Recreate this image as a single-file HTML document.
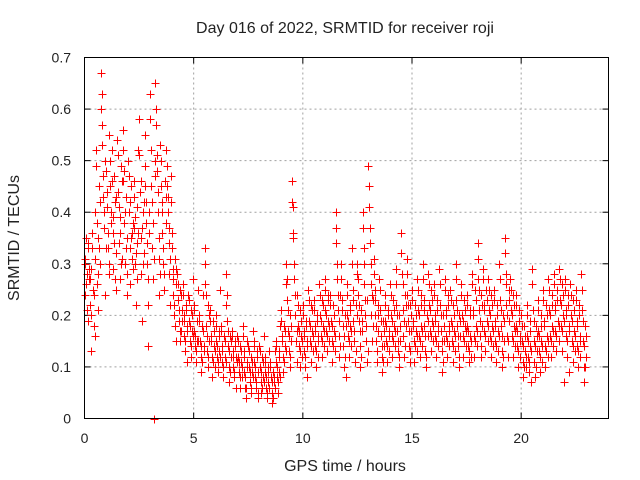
<!DOCTYPE html>
<html><head><meta charset="utf-8"><style>
html,body{margin:0;padding:0;background:#fff}
svg{display:block}
text{font-family:"Liberation Sans",sans-serif;font-size:14px;fill:#222}
.big{font-size:16px}
</style></head><body>
<svg id="chart" width="640" height="480" viewBox="0 0 640 480">
<rect x="0" y="0" width="640" height="480" fill="#fff"/>
<text class="big" x="345" y="33" text-anchor="middle">Day 016 of 2022, SRMTID for receiver roji</text>
<text class="big" x="345" y="471" text-anchor="middle">GPS time / hours</text>
<text class="big" x="0" y="0" text-anchor="middle" transform="translate(19,238) rotate(-90)">SRMTID / TECUs</text>
<g id="grid"></g>
<g id="ticks"></g>
<g id="marks"></g>
<rect x="84.5" y="57.5" width="524" height="361" fill="none" stroke="#000" stroke-width="1"/>
</svg>
<script>
const xTicks=[0,5,10,15,20];
const yTicks=[0,0.1,0.2,0.3,0.4,0.5,0.6,0.7];
const yTickLabels=["0","0.1","0.2","0.3","0.4","0.5","0.6","0.7"];
const sampleStep=0.035;
const binHours=[0,0.25,0.5,0.75,1,1.25,1.5,1.75,2,2.25,2.5,2.75,3,3.25,3.5,3.75,4,4.25,4.5,4.75,5,5.25,5.5,5.75,6,6.25,6.5,6.75,7,7.25,7.5,7.75,8,8.25,8.5,8.75,9,9.25,9.5,9.75,10,10.25,10.5,10.75,11,11.25,11.5,11.75,12,12.25,12.5,12.75,13,13.25,13.5,13.75,14,14.25,14.5,14.75,15,15.25,15.5,15.75,16,16.25,16.5,16.75,17,17.25,17.5,17.75,18,18.25,18.5,18.75,19,19.25,19.5,19.75,20,20.25,20.5,20.75,21,21.25,21.5,21.75,22,22.25,22.5,22.75];
const tecu=[
[0.24,0.31,0.35,0.28,0.19,0.33,0.27],[0.22,0.13,0.29,0.36,0.25,0.18,0.31],[0.40,0.52,0.26,0.35,0.21,0.45,0.30],[0.67,0.63,0.57,0.43,0.37,0.24,0.50],
[0.48,0.41,0.33,0.55,0.28,0.45,0.38],[0.52,0.36,0.29,0.47,0.42,0.25,0.32],[0.54,0.44,0.34,0.27,0.39,0.49,0.31],[0.56,0.46,0.38,0.30,0.43,0.24,0.35],
[0.50,0.40,0.33,0.26,0.45,0.36,0.29],[0.46,0.37,0.30,0.22,0.41,0.34,0.52],[0.58,0.44,0.35,0.28,0.19,0.40,0.32],[0.55,0.45,0.38,0.30,0.22,0.14,0.36],
[0.63,0.52,0.42,0.33,0.27,0.00,0.47],[0.65,0.57,0.48,0.40,0.31,0.24,0.53],[0.50,0.42,0.36,0.30,0.25,0.46,0.38],[0.52,0.45,0.40,0.34,0.28,0.22,0.47],
[0.36,0.29,0.24,0.20,0.31,0.26,0.15],[0.28,0.23,0.19,0.15,0.25,0.17,0.21],[0.26,0.20,0.16,0.13,0.22,0.18,0.11],[0.24,0.19,0.15,0.12,0.21,0.17,0.27],
[0.22,0.17,0.14,0.11,0.19,0.15,0.25],[0.20,0.15,0.12,0.09,0.18,0.24,0.14],[0.33,0.26,0.18,0.13,0.10,0.22,0.15],[0.21,0.16,0.12,0.08,0.19,0.14,0.10],
[0.20,0.15,0.12,0.09,0.17,0.13,0.25],[0.18,0.14,0.11,0.08,0.16,0.12,0.22],[0.28,0.19,0.14,0.10,0.07,0.16,0.12],[0.17,0.13,0.10,0.08,0.15,0.12,0.06],
[0.16,0.12,0.09,0.06,0.14,0.11,0.08],[0.18,0.13,0.09,0.06,0.04,0.11,0.15],[0.14,0.10,0.07,0.05,0.12,0.09,0.17],[0.15,0.11,0.08,0.06,0.13,0.09,0.04],
[0.14,0.10,0.07,0.05,0.12,0.08,0.16],[0.12,0.09,0.06,0.04,0.10,0.07,0.13],[0.11,0.08,0.05,0.03,0.09,0.07,0.13],[0.15,0.11,0.08,0.05,0.13,0.09,0.18],
[0.21,0.16,0.12,0.09,0.18,0.14,0.26],[0.30,0.23,0.17,0.13,0.10,0.20,0.15],[0.46,0.41,0.35,0.27,0.20,0.15,0.11],[0.24,0.18,0.14,0.10,0.21,0.16,0.12],
[0.22,0.17,0.13,0.10,0.19,0.15,0.08],[0.25,0.19,0.15,0.11,0.22,0.17,0.13],[0.23,0.18,0.14,0.10,0.20,0.16,0.12],[0.26,0.20,0.16,0.12,0.23,0.18,0.14],
[0.27,0.21,0.17,0.13,0.24,0.19,0.15],[0.24,0.19,0.15,0.11,0.22,0.17,0.13],[0.40,0.34,0.27,0.21,0.16,0.12,0.24],[0.30,0.23,0.18,0.14,0.10,0.20,0.08],
[0.26,0.20,0.16,0.12,0.22,0.18,0.14],[0.33,0.25,0.19,0.15,0.11,0.22,0.28],[0.30,0.24,0.19,0.14,0.10,0.21,0.17],[0.40,0.33,0.26,0.20,0.15,0.11,0.23],
[0.49,0.41,0.34,0.26,0.20,0.15,0.23],[0.31,0.25,0.20,0.15,0.11,0.22,0.17],[0.27,0.21,0.16,0.12,0.09,0.19,0.14],[0.24,0.19,0.15,0.11,0.21,0.17,0.13],
[0.26,0.20,0.16,0.12,0.23,0.18,0.14],[0.29,0.22,0.17,0.13,0.10,0.20,0.15],[0.36,0.28,0.21,0.16,0.12,0.24,0.18],[0.31,0.24,0.19,0.14,0.11,0.22,0.17],
[0.25,0.19,0.15,0.11,0.22,0.17,0.13],[0.27,0.21,0.16,0.12,0.24,0.18,0.14],[0.30,0.23,0.18,0.13,0.10,0.20,0.16],[0.28,0.22,0.17,0.13,0.25,0.19,0.15],
[0.26,0.20,0.16,0.12,0.23,0.18,0.14],[0.29,0.22,0.17,0.13,0.09,0.20,0.15],[0.27,0.21,0.16,0.12,0.24,0.18,0.14],[0.25,0.19,0.15,0.11,0.22,0.17,0.13],
[0.30,0.23,0.18,0.14,0.10,0.20,0.16],[0.26,0.20,0.16,0.12,0.23,0.18,0.14],[0.24,0.18,0.14,0.11,0.21,0.16,0.12],[0.28,0.21,0.16,0.12,0.25,0.18,0.14],
[0.34,0.27,0.21,0.16,0.12,0.24,0.18],[0.29,0.22,0.17,0.13,0.25,0.19,0.15],[0.27,0.21,0.16,0.12,0.24,0.18,0.14],[0.25,0.19,0.15,0.11,0.22,0.17,0.13],
[0.30,0.23,0.18,0.13,0.10,0.20,0.15],[0.35,0.28,0.22,0.16,0.12,0.25,0.19],[0.27,0.21,0.16,0.12,0.24,0.18,0.14],[0.24,0.18,0.14,0.10,0.21,0.16,0.12],
[0.20,0.15,0.11,0.08,0.18,0.13,0.10],[0.22,0.16,0.12,0.09,0.19,0.14,0.07],[0.29,0.21,0.15,0.11,0.08,0.18,0.13],[0.23,0.17,0.13,0.09,0.20,0.15,0.11],
[0.25,0.19,0.14,0.10,0.22,0.16,0.12],[0.27,0.21,0.16,0.12,0.24,0.18,0.14],[0.28,0.22,0.17,0.13,0.25,0.19,0.15],[0.29,0.23,0.18,0.13,0.26,0.20,0.07],
[0.27,0.21,0.16,0.12,0.24,0.18,0.09],[0.26,0.20,0.15,0.11,0.23,0.17,0.13],[0.25,0.19,0.14,0.10,0.22,0.16,0.12],[0.28,0.21,0.15,0.10,0.07,0.18,0.12]
];
const tecuB=[
[0.30,0.26,0.21,0.34,0.29],[0.27,0.20,0.33,0.24,0.16],[0.49,0.38,0.28,0.33,0.42],[0.60,0.53,0.47,0.40,0.33],
[0.44,0.36,0.30,0.50,0.40],[0.46,0.39,0.34,0.27,0.43],[0.51,0.41,0.36,0.30,0.46],[0.52,0.48,0.40,0.33,0.28],
[0.47,0.42,0.35,0.31,0.38],[0.43,0.39,0.32,0.27,0.36],[0.51,0.46,0.37,0.30,0.42],[0.49,0.42,0.34,0.27,0.40],
[0.58,0.45,0.38,0.31,0.50],[0.60,0.51,0.44,0.35,0.28],[0.45,0.40,0.33,0.28,0.43],[0.49,0.43,0.37,0.31,0.42],
[0.33,0.27,0.22,0.18,0.29],[0.26,0.21,0.17,0.24,0.19],[0.24,0.19,0.15,0.21,0.17],[0.23,0.18,0.14,0.20,0.16],
[0.21,0.16,0.13,0.19,0.15],[0.19,0.14,0.11,0.17,0.13],[0.30,0.24,0.16,0.12,0.20],[0.19,0.15,0.11,0.17,0.13],
[0.18,0.14,0.11,0.16,0.12],[0.17,0.13,0.10,0.15,0.11],[0.24,0.17,0.13,0.09,0.15],[0.16,0.12,0.09,0.14,0.11],
[0.15,0.11,0.08,0.13,0.10],[0.16,0.12,0.08,0.06,0.10],[0.13,0.09,0.06,0.11,0.08],[0.14,0.10,0.07,0.12,0.05],
[0.13,0.09,0.06,0.11,0.07],[0.11,0.08,0.05,0.09,0.06],[0.10,0.07,0.04,0.08,0.06],[0.14,0.10,0.07,0.12,0.08],
[0.19,0.15,0.11,0.17,0.13],[0.27,0.21,0.16,0.12,0.18],[0.42,0.36,0.30,0.24,0.17],[0.22,0.17,0.13,0.19,0.15],
[0.20,0.16,0.12,0.18,0.14],[0.23,0.18,0.14,0.21,0.16],[0.21,0.17,0.13,0.19,0.15],[0.24,0.19,0.15,0.22,0.17],
[0.25,0.20,0.16,0.23,0.18],[0.22,0.18,0.14,0.20,0.16],[0.37,0.30,0.24,0.19,0.14],[0.27,0.21,0.16,0.12,0.18],
[0.24,0.19,0.15,0.21,0.17],[0.30,0.23,0.17,0.13,0.20],[0.27,0.22,0.17,0.12,0.19],[0.37,0.30,0.23,0.18,0.13],
[0.45,0.37,0.30,0.24,0.18],[0.28,0.23,0.18,0.13,0.20],[0.25,0.19,0.14,0.11,0.17],[0.22,0.18,0.14,0.20,0.16],
[0.24,0.19,0.15,0.21,0.17],[0.26,0.20,0.15,0.12,0.18],[0.32,0.26,0.19,0.14,0.22],[0.28,0.22,0.17,0.13,0.20],
[0.23,0.18,0.14,0.20,0.16],[0.25,0.20,0.15,0.22,0.17],[0.27,0.21,0.16,0.12,0.19],[0.26,0.21,0.16,0.23,0.18],
[0.24,0.19,0.15,0.21,0.17],[0.26,0.20,0.15,0.11,0.18],[0.25,0.20,0.15,0.22,0.17],[0.23,0.18,0.14,0.20,0.16],
[0.27,0.21,0.16,0.12,0.19],[0.24,0.19,0.15,0.21,0.17],[0.22,0.17,0.13,0.20,0.15],[0.26,0.20,0.15,0.23,0.17],
[0.31,0.25,0.19,0.14,0.22],[0.27,0.21,0.16,0.23,0.18],[0.25,0.20,0.15,0.22,0.17],[0.23,0.18,0.14,0.20,0.16],
[0.27,0.21,0.16,0.12,0.19],[0.32,0.26,0.20,0.15,0.23],[0.25,0.20,0.15,0.22,0.17],[0.22,0.17,0.13,0.19,0.15],
[0.18,0.14,0.10,0.16,0.12],[0.20,0.15,0.11,0.17,0.13],[0.26,0.19,0.14,0.10,0.16],[0.21,0.16,0.12,0.18,0.14],
[0.23,0.18,0.13,0.20,0.15],[0.25,0.20,0.15,0.22,0.17],[0.26,0.21,0.16,0.23,0.18],[0.27,0.22,0.17,0.24,0.19],
[0.25,0.20,0.15,0.22,0.17],[0.24,0.19,0.14,0.21,0.16],[0.23,0.18,0.13,0.20,0.15],[0.25,0.19,0.14,0.10,0.16]
];
const NS="http://www.w3.org/2000/svg";
const L=84.5,R=608.5,T=57.5,B=418.5,XMAX=24,YMAX=0.7;
function xs(v){return L+(R-L)*v/XMAX;}
function ys(v){return B-(B-T)*v/YMAX;}
function mk(tag,attrs,parent){const e=document.createElementNS(NS,tag);for(const k in attrs)e.setAttribute(k,attrs[k]);parent.appendChild(e);return e;}
const grid=document.getElementById('grid'),ticks=document.getElementById('ticks'),marks=document.getElementById('marks');
xTicks.forEach(v=>{const x=xs(v);
  if(v>0){const g=mk('line',{x1:x,x2:x,y1:T,y2:B,stroke:'#a0a0a0','stroke-dasharray':'2,3'},grid);
  
  }
  mk('line',{x1:x,x2:x,y1:B,y2:B-6,stroke:'#000'},ticks);
  mk('line',{x1:x,x2:x,y1:T,y2:T+6,stroke:'#000'},ticks);
  const t=mk('text',{x:x,y:443,'text-anchor':'middle'},ticks);t.textContent=String(v);
  
  
});
yTicks.forEach((v,i)=>{const y=ys(v);
  if(v>0&&v<YMAX){const g=mk('line',{x1:L,x2:R,y1:y,y2:y,stroke:'#a0a0a0','stroke-dasharray':'2,3'},grid);
  
  }
  mk('line',{x1:L,x2:L+6,y1:y,y2:y,stroke:'#000'},ticks);
  mk('line',{x1:R,x2:R-6,y1:y,y2:y,stroke:'#000'},ticks);
  const t=mk('text',{x:71,y:y+5,'text-anchor':'end'},ticks);t.textContent=yTickLabels[i];
  
  
});
let d='';
function plus(h,v){const x=Math.round(xs(h))+0.5,y=Math.round(ys(v))+0.5;
  d+='M'+(x-4)+' '+y+'h8M'+x+' '+(y-4)+'v8';}
binHours.forEach((h,bi)=>{
  tecu[bi].forEach((v,j)=>plus(h+j*sampleStep,v));
  tecuB[bi].forEach((v,j)=>plus(h+0.017+j*sampleStep*1.4,v));
});
const p=mk('path',{d:d,stroke:'#ff0000','stroke-width':1.2,fill:'none','shape-rendering':'crispEdges'},marks);


</script>
</body></html>
